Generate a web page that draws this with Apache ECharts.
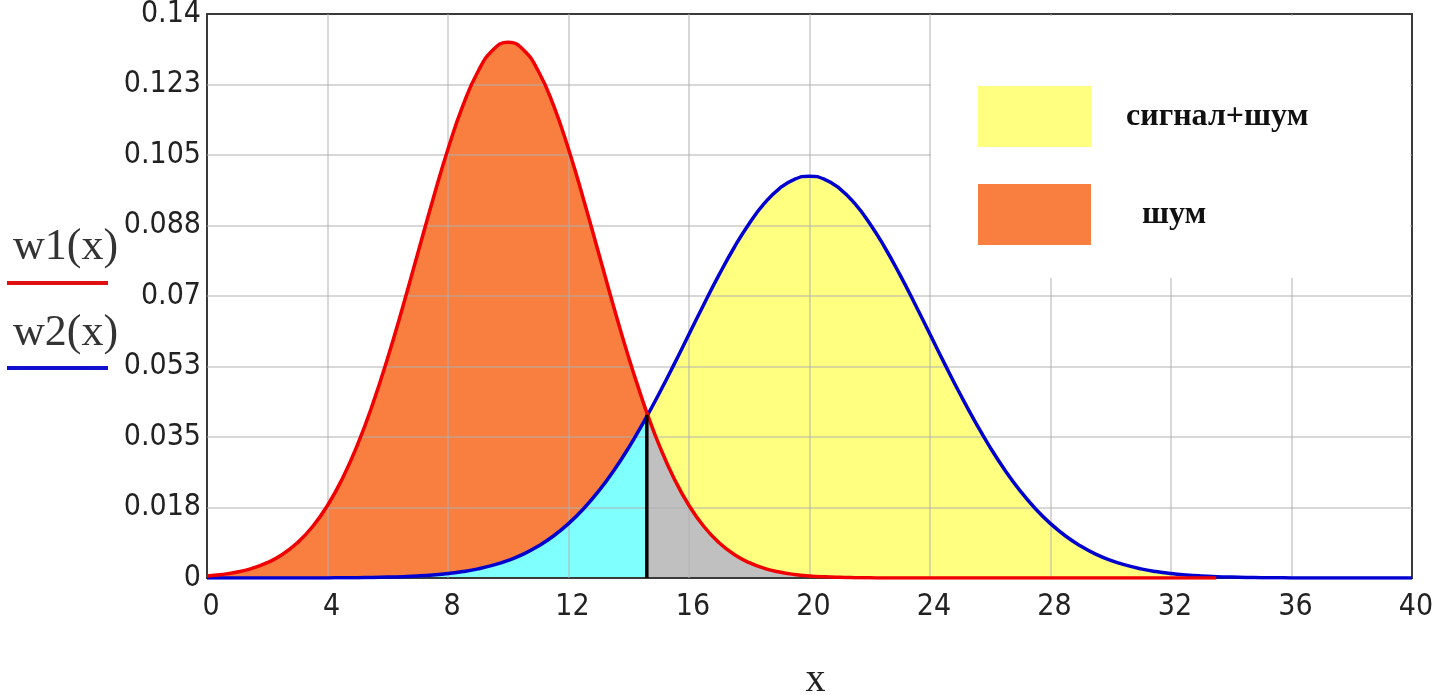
<!DOCTYPE html>
<html>
<head>
<meta charset="utf-8">
<script src="https://cdn.jsdelivr.net/npm/echarts@6/dist/echarts.min.js"></script>
<style>
  html, body { margin: 0; padding: 0; background: #fff; }
  #chart { width: 1435px; height: 695px; }
</style>
</head>
<body>
<div id="chart"></div>
<script>
// x grid of the two densities (14.6 = crossing / threshold)
var xs = [0, 0.5, 1, 1.5, 2, 2.5, 3, 3.5, 4, 4.5, 5, 5.5, 6, 6.5, 7, 7.5, 8, 8.5, 9, 9.5,
  10, 10.5, 11, 11.5, 12, 12.5, 13, 13.5, 14, 14.5, 14.6, 15, 15.5, 16, 16.5, 17, 17.5, 18, 18.5, 19, 19.5,
  20, 20.5, 21, 21.5, 22, 22.5, 23, 23.5, 24, 24.5, 25, 25.5, 26, 26.5, 27, 27.5, 28, 28.5, 29, 29.5,
  30, 30.5, 31, 31.5, 32, 32.5, 33, 33.5, 34, 34.5, 35, 35.5, 36, 36.5, 37, 37.5, 38, 38.5, 39, 39.5, 40];

// w1(x) - шум
var w1 = [0.00051, 0.00088, 0.00148, 0.0024, 0.0038, 0.00584, 0.00874, 0.01272, 0.018, 0.02477,
  0.03316, 0.04317, 0.05467, 0.06733, 0.08066, 0.09397, 0.10648, 0.11736, 0.12579, 0.13115,
  0.1330, 0.13115, 0.12579, 0.11736, 0.10648, 0.09397, 0.08066, 0.06733, 0.05467, 0.04317, 0.04104,
  0.03316, 0.02477, 0.018, 0.01272, 0.00874, 0.00584, 0.0038, 0.0024, 0.00148, 0.00088,
  0.00051, 0.00029, 0.00016, 0.00009, 0.00005, 0, 0, 0, 0, 0, 0, 0, 0, 0, 0,
  0, 0, 0, 0, 0, 0, 0, 0, 0, 0, 0, 0, 0,
  null, null, null, null, null, null, null, null, null, null, null, null, null];

// w2(x) - сигнал+шум
var w2 = [0, 0, 0, 0, 0, 0, 0, 0, 0.00003, 0.00005,
  0.00009, 0.00014, 0.00022, 0.00034, 0.00051, 0.00076, 0.00111, 0.0016, 0.00227, 0.00318,
  0.00438, 0.00594, 0.00794, 0.01043, 0.0135, 0.0172, 0.02157, 0.02664, 0.03238, 0.03876, 0.0401,
  0.04566, 0.05297, 0.0605, 0.06802, 0.07529, 0.08204, 0.08802, 0.09297, 0.09667, 0.09896,
  0.09974, 0.09896, 0.09667, 0.09297, 0.08802, 0.08204, 0.07529, 0.06802, 0.0605, 0.05297,
  0.04566, 0.03876, 0.03238, 0.02664, 0.02157, 0.0172, 0.0135, 0.01043, 0.00794, 0.00594,
  0.00438, 0.00318, 0.00227, 0.0016, 0.00111, 0.00076, 0.00051, 0.00034, 0.00022, 0.00014,
  0.00009, 0.00005, 0.00003, 0, 0, 0, 0, 0, 0, 0, 0];

var threshold = [14.6, 0.0405];   // порог: x и высота пересечения
var xTicks = [4, 8, 12, 16, 20, 24, 28, 32, 36];
var yTicks = [0.0175, 0.035, 0.0525, 0.07, 0.0875, 0.105, 0.1225];
var yLabels = ['0', '0.018', '0.035', '0.053', '0.07', '0.088', '0.105', '0.123', '0.14'];
var legendNames = ['сигнал+шум', 'шум'];

function pairs(ys, lo, hi) {
  var out = [];
  for (var i = 0; i < xs.length; i++) {
    if (xs[i] >= lo && xs[i] <= hi && ys[i] != null) out.push([xs[i], ys[i]]);
  }
  return out;
}

var tickFont = '"DejaVu Sans Condensed", "Liberation Sans Narrow", "DejaVu Sans", sans-serif';
var gridColor = 'rgba(175,175,175,0.65)';

function fill(name, ys, lo, hi, color) {
  return {
    name: name, type: 'line', data: pairs(ys, lo, hi), smooth: true,
    showSymbol: false, color: color, z: 1, silent: true,
    lineStyle: { width: 0 }, areaStyle: { color: color, opacity: 1 }
  };
}

// grid lines drawn over the fills (as in the original plot)
var gridLines = xTicks.map(function (v) { return { xAxis: v }; })
  .concat(yTicks.map(function (v) { return { yAxis: v }; }));

var chart = echarts.init(document.getElementById('chart'));
var option = {
  animation: false,
  backgroundColor: '#fff',
  grid: {
    left: 207, right: 23, top: 14, bottom: 117, outerBoundsMode: 'none', containLabel: false,
    show: true, borderColor: '#3a3a3a', borderWidth: 2, z: 2
  },
  xAxis: {
    type: 'value', min: 0, max: 40, interval: 4, z: 2,
    name: 'x', nameLocation: 'middle', nameGap: 82,
    nameTextStyle: { fontFamily: '"Liberation Serif", serif', fontSize: 40, color: '#222', padding: [0, 0, 0, 12] },
    axisLine: { show: false }, axisTick: { show: false },
    axisLabel: { margin: 14, fontFamily: tickFont, fontSize: 30, color: '#222', padding: [0, 0, 0, 8] },
    splitLine: { show: false }
  },
  yAxis: {
    type: 'value', min: 0, max: 0.14, interval: 0.0175, z: 2,
    axisLine: { show: false }, axisTick: { show: false },
    axisLabel: {
      margin: 6, fontFamily: tickFont, fontSize: 30, color: '#222',
      formatter: function (v) { return yLabels[Math.round(v / 0.0175)]; }
    },
    splitLine: { show: false }
  },
  legend: {
    data: legendNames, orient: 'vertical', left: 978, top: 86, z: 6, padding: 0,
    icon: 'rect', itemWidth: 113, itemHeight: 61, itemGap: 37,
    itemStyle: { borderWidth: 0 },
    formatter: function (n) { return n === 'шум' ? '  ' + n : n; },
    textStyle: { fontFamily: '"Liberation Serif", serif', fontWeight: 'bold', fontSize: 32, color: '#111', padding: [0, 0, 10, 30] },
    selectedMode: false
  },
  graphic: [
    { type: 'rect', z: 3, silent: true, shape: { x: 931, y: 16, width: 479, height: 262 }, style: { fill: '#fff' } },
    { type: 'text', z: 3, x: 13, y: 247, style: { text: 'w1(x)', font: '44px "Liberation Serif", serif', fill: '#333', align: 'left', verticalAlign: 'middle' } },
    { type: 'line', z: 3, shape: { x1: 7, y1: 283, x2: 108, y2: 283 }, style: { stroke: '#e01010', lineWidth: 4 } },
    { type: 'text', z: 3, x: 13, y: 333, style: { text: 'w2(x)', font: '44px "Liberation Serif", serif', fill: '#333', align: 'left', verticalAlign: 'middle' } },
    { type: 'line', z: 3, shape: { x1: 7, y1: 368, x2: 108, y2: 368 }, style: { stroke: '#1010d0', lineWidth: 4 } }
  ],
  series: [
    fill('шум', w1, 0, threshold[0], '#F97F40'),
    fill('cyan', w2, 6.5, threshold[0], '#80FFFF'),
    fill('сигнал+шум', w2, threshold[0], 33.5, '#FFFF80'),
    fill('gray', w1, threshold[0], 20, '#C0C0C0'),
    {
      name: 'grid', type: 'line', data: [], z: 2, silent: true,
      markLine: {
        z: 2, precision: 6, silent: true, symbol: ['none', 'none'], label: { show: false },
        lineStyle: { color: gridColor, width: 1.5, type: 'solid' },
        data: gridLines
      }
    },
    {
      name: 'w2(x)', type: 'line', data: pairs(w2, 0, 40), smooth: true, showSymbol: false, z: 4,
      lineStyle: { color: '#0000D0', width: 3.5 }
    },
    {
      name: 'w1(x)', type: 'line', data: pairs(w1, 0, 40), smooth: true, showSymbol: false, z: 4,
      lineStyle: { color: '#F00000', width: 3.5 }
    },
    {
      name: 'порог', type: 'line', data: [[threshold[0], 0], [threshold[0], threshold[1]]],
      showSymbol: false, z: 5, lineStyle: { color: '#000', width: 3.5 }
    }
  ]
};
chart.setOption(option);
</script>
</body>
</html>
